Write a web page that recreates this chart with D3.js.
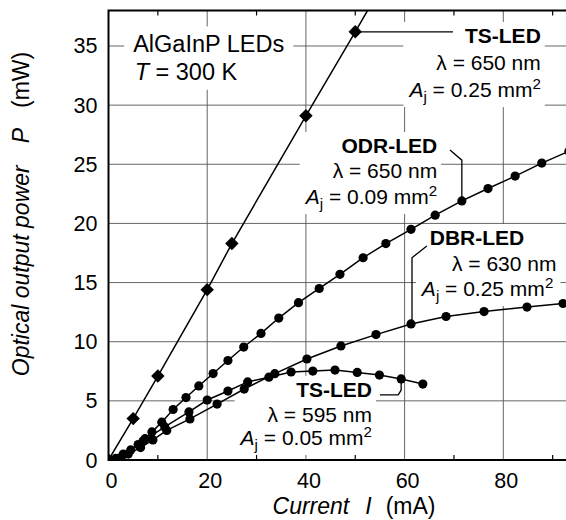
<!DOCTYPE html>
<html>
<head>
<meta charset="utf-8">
<script src="https://cdn.jsdelivr.net/npm/d3@7"></script>
<style>
  body { margin: 0; background: #fff; }
  svg { font-family: "Liberation Sans", Arial, sans-serif; }
</style>
</head>
<body>
<div id="chart"></div>
<script>
// tick labels
var xTicks = [0, 20, 40, 60, 80];
var xMinor = [10, 30, 50, 70, 90];
var yTicks = [0, 5, 10, 15, 20, 25, 30, 35];

// TS-LED, 650 nm (diamonds)
var tsRedI = [0, 5, 10, 20, 25, 40, 50, 60];
var tsRedP = [0, 3.5, 7.1, 14.4, 18.3, 29.1, 36.2, 43.4];

// ODR-LED, 650 nm
var odrI = [0, 1.5, 3, 4.5, 6, 7.4, 8.8, 10.8, 13.1, 15.7, 18.3, 21.2, 24.2, 27.4, 30.9, 34.5, 38.5, 42.7, 46.9, 51.6, 56.2, 61.3, 66.2, 71.6, 76.9, 82.4, 87.8, 93.3];
var odrP = [0, 0.15, 0.45, 0.85, 1.3, 1.8, 2.37, 3.2, 4.27, 5.28, 6.26, 7.31, 8.41, 9.55, 10.7, 12.0, 13.3, 14.5, 15.7, 17.1, 18.3, 19.5, 20.7, 21.9, 22.95, 24.0, 25.1, 26.1];

// DBR-LED, 630 nm
var dbrI = [0, 2, 4, 6.5, 9, 11.8, 16.5, 22.0, 27.5, 33.7, 40.2, 47.1, 54.2, 61.3, 68.4, 76.1, 84.8, 92.1];
var dbrP = [0, 0.15, 0.5, 1.05, 1.7, 2.5, 3.47, 4.73, 6.0, 7.3, 8.54, 9.64, 10.6, 11.5, 12.13, 12.55, 12.93, 13.23];

// TS-LED, 595 nm
var ts595I = [0, 3, 7, 11.4, 16.3, 20.0, 24.2, 28.2, 32.5, 37.0, 41.4, 45.9, 50.4, 54.9, 59.3, 63.7];
var ts595P = [0, 0.5, 1.6, 2.8, 4.06, 5.07, 5.83, 6.6, 7.0, 7.44, 7.52, 7.6, 7.4, 7.18, 6.85, 6.42];

var width = 566, height = 520;
var plotLeft = 108.5, plotTop = 10.5, plotBottom = 460;

var svg = d3.select("#chart").append("svg")
    .attr("width", width)
    .attr("height", height);

var x = d3.scaleLinear().domain([0, 100]).range([plotLeft, plotLeft + 493.5]);
var y = d3.scaleLinear().domain([0, 38]).range([plotBottom, plotTop]);

svg.append("clipPath").attr("id", "plot")
  .append("rect")
    .attr("x", plotLeft).attr("y", plotTop)
    .attr("width", width - plotLeft).attr("height", plotBottom - plotTop);

function zip(a, b) { return a.map(function(v, i) { return [v, b[i]]; }); }

// grid
var grid = svg.append("g").attr("stroke", "#555").attr("stroke-width", 0.9);
grid.selectAll(".gx").data(xTicks.slice(1)).enter().append("line")
    .attr("x1", d => x(d)).attr("x2", d => x(d))
    .attr("y1", plotTop).attr("y2", plotBottom);
grid.selectAll(".gy").data(yTicks.slice(1)).enter().append("line")
    .attr("x1", plotLeft).attr("x2", width)
    .attr("y1", d => y(d)).attr("y2", d => y(d));

// minor ticks top / bottom
var ticks = svg.append("g").attr("stroke", "#000").attr("stroke-width", 1.2);
ticks.selectAll(".tb").data(xMinor).enter().append("line")
    .attr("x1", d => x(d)).attr("x2", d => x(d))
    .attr("y1", plotBottom).attr("y2", plotBottom - 5);
ticks.selectAll(".tt").data(xMinor).enter().append("line")
    .attr("x1", d => x(d)).attr("x2", d => x(d))
    .attr("y1", plotTop).attr("y2", plotTop + 5);

// text helper: parts = [text, style, dx] with style in i, b, sub, sup
function rich(g, px, py, anchor, parts, size) {
  size = size || 21;
  var t = g.append("text").attr("x", px).attr("y", py)
      .attr("text-anchor", anchor).style("font-size", size + "px");
  var shift = 0;
  parts.forEach(function(p) {
    var s = t.append("tspan").text(p[0]);
    var want = 0;
    if (p[1] === "i") s.style("font-style", "italic");
    if (p[1] === "b") s.style("font-weight", "bold");
    if (p[1] === "sub") { want = 5; s.style("font-size", (size * 0.72) + "px"); }
    if (p[1] === "sup") { want = -8; s.style("font-size", (size * 0.72) + "px"); }
    if (want !== shift) { s.attr("dy", want - shift); shift = want; }
    if (p[2]) s.attr("dx", p[2]);
  });
  return t;
}

var labels = svg.append("g");
function block(lines, pad, size) {
  var g = labels.append("g");
  lines.forEach(function(l) { rich(g, x(l[0]), y(l[1]), l[2], l[3], size); });
  var b = g.node().getBBox();
  g.insert("rect", ":first-child")
    .attr("x", b.x - pad).attr("y", b.y - pad / 2)
    .attr("width", b.width + 2 * pad).attr("height", b.height + pad)
    .attr("fill", "#fff");
  return g;
}

block([
  [5.0, 34.5, "start", [["AlGaInP LEDs", ""]]],
  [5.3, 32.1, "start", [["T", "i"], [" = 300 K", ""]]]
], 9, 23.5);

block([
  [87.6, 35.25, "end", [["TS-LED", "b"]]],
  [87.6, 32.97, "end", [["\u03bb = 650 nm", ""]]],
  [87.6, 30.68, "end", [["A", "i"], ["j", "sub"], [" = 0.25 mm", ""], ["2", "sup"]]]
], 4);

block([
  [66.6, 25.95, "end", [["ODR-LED", "b"]]],
  [66.6, 23.84, "end", [["\u03bb = 650 nm", ""]]],
  [66.6, 21.64, "end", [["A", "i"], ["j", "sub"], [" = 0.09 mm", ""], ["2", "sup"]]]
], 4);

block([
  [65.1, 18.17, "start", [["DBR-LED", "b"]]],
  [69.6, 15.98, "start", [["\u03bb = 630 nm", ""]]],
  [63.5, 13.86, "start", [["A", "i"], ["j", "sub"], [" = 0.25 mm", ""], ["2", "sup"]]]
], 4);

block([
  [53.4, 5.33, "end", [["TS-LED", "b"]]],
  [53.4, 3.21, "end", [["\u03bb = 595 nm", ""]]],
  [53.4, 1.27, "end", [["A", "i"], ["j", "sub"], [" = 0.05 mm", ""], ["2", "sup"]]]
], 4);

// leader lines (anchored on data points)
var lead = d3.line().x(d => x(d[0])).y(d => y(d[1]));
var leaders = [
  [[tsRedI[6], tsRedP[6]], [69.8, tsRedP[6]]],
  [[69.2, 26.2], [odrI[23], 25.35], [odrI[23], odrP[23]]],
  [[64.5, 18.1], [dbrI[13] + 0.2, 17.1], [dbrI[13] + 0.2, dbrP[13]]],
  [[55.0, 5.5], [58.7, 5.5], [ts595I[14], 5.9], [ts595I[14], ts595P[14]]]
];
svg.append("g").selectAll("path").data(leaders).enter().append("path")
    .attr("d", lead).attr("fill", "none")
    .attr("stroke", "#000").attr("stroke-width", 1.3);

// data
var plot = svg.append("g").attr("clip-path", "url(#plot)");
var line = d3.line().x(d => x(d[0])).y(d => y(d[1]));
var circleSeries = [zip(odrI, odrP), zip(dbrI, dbrP), zip(ts595I, ts595P)];

plot.selectAll(".ln").data(circleSeries.concat([zip(tsRedI, tsRedP)])).enter()
  .append("path")
    .attr("d", line).attr("fill", "none")
    .attr("stroke", "#000").attr("stroke-width", 1.5);

circleSeries.forEach(function(s) {
  plot.append("g").selectAll("circle").data(s).enter().append("circle")
      .attr("cx", d => x(d[0])).attr("cy", d => y(d[1]))
      .attr("r", 4.6).attr("fill", "#000");
});

plot.append("g").selectAll("path").data(zip(tsRedI, tsRedP)).enter().append("path")
    .attr("d", d3.symbol().type(d3.symbolSquare).size(90))
    .attr("transform", d => "translate(" + x(d[0]) + "," + y(d[1]) + ") rotate(45)")
    .attr("fill", "#000");

// frame (left, top, bottom)
svg.append("path")
    .attr("d", "M" + width + "," + plotTop + "H" + plotLeft + "V" + plotBottom + "H" + width)
    .attr("fill", "none").attr("stroke", "#000").attr("stroke-width", 2);

// tick labels
svg.append("g").selectAll("text").data(xTicks).enter().append("text")
    .attr("x", d => x(d) + 3).attr("y", plotBottom + 28)
    .attr("text-anchor", "middle").style("font-size", "21.5px")
    .text(d => d);
svg.append("g").selectAll("text").data(yTicks).enter().append("text")
    .attr("x", plotLeft - 11).attr("y", d => y(d) + 7.5)
    .attr("text-anchor", "end").style("font-size", "21.5px")
    .text(d => d);

// axis titles
rich(svg, 354, 514, "middle", [["Current", "i"], ["I", "i", 16], ["(mA)", "", 14]], 23);
var yt = rich(svg, 0, 0, "middle", [["Optical output power", "i"], ["P", "i", 22], ["(mW)", "", 20]], 23);
yt.attr("transform", "translate(29,214) rotate(-90)");
</script>
</body>
</html>
